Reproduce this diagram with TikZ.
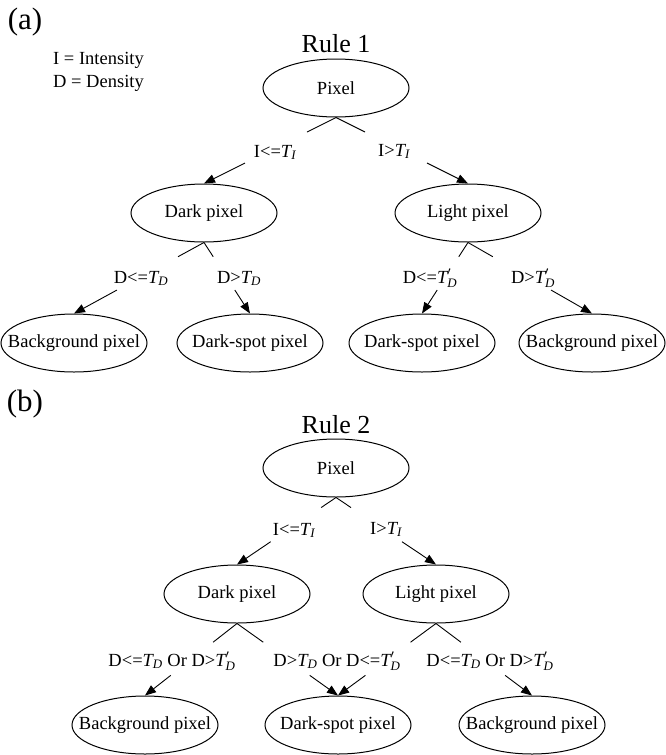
\documentclass[tikz,border=0pt]{standalone}
\usepackage{amsmath}
\usepackage{fontspec}
\setmainfont{Liberation Serif}
\usetikzlibrary{shapes.geometric,arrows.meta,calc}
\newcommand\nb[1]{\makebox[0pt]{#1}}
\newcommand\Ts[1]{$\textit{T}_{\textit{#1}}$}
\newcommand\Tp{$\textit{T}^{\prime}_{\textit{D}}$}
\newcommand\brEdge[4]{%
  \draw[edgeline] (#1.south) -- ($(#1.south)!#3!(#2.north)$);
  \draw[edgeline,arr] ($(#1.south)!#4!(#2.north)$) -- (#2.north);}
\tikzset{
  ell/.style={ellipse, draw, line width=1pt, minimum width=146pt,
    minimum height=58pt, inner sep=0pt, font=\fontsize{18.5}{20}\selectfont},
  lbl/.style={anchor=base, inner sep=0pt, font=\fontsize{18.5}{20}\selectfont},
  edgeline/.style={line width=0.9pt},
  arr/.style={-{Triangle[length=11pt,width=8.5pt]}},
  panel/.style={font=\fontsize{31}{33}\selectfont, inner sep=0pt},
  rulettl/.style={font=\fontsize{26}{28}\selectfont, inner sep=0pt},
  legend/.style={anchor=base west, inner sep=0pt, font=\fontsize{18.5}{20}\selectfont}
}
\begin{document}
\begin{tikzpicture}[x=1pt,y=-1pt]
\useasboundingbox[fill=white] (0,0) rectangle (666,755);
% ---------- (a)
\node[panel] (pa) at (25,22) {(a)};
\node[legend] (lg1) at (53,64) {I = Intensity};
\node[legend] (lg2) at (53,87) {D = Density};
\node[rulettl] (r1) at (336,44) {Rule 1};
\node[ell] (px1) at (336,88) {\nb{Pixel}};
\node[ell] (dk1) at (204,213) {\nb{Dark pixel}};
\node[ell] (lt1) at (468,213) {\nb{Light pixel}};
\node[ell] (bg1) at (74,343) {\nb{Background pixel}};
\node[ell] (ds1) at (250,343) {\nb{Dark-spot pixel}};
\node[ell] (ds2) at (422,343) {\nb{Dark-spot pixel}};
\node[ell] (bg2) at (592,343) {\nb{Background pixel}};
\node[lbl] (l1) at (275,157) {I<=\Ts{I}};
\node[lbl] (l2) at (394,156) {I>\Ts{I}};
\node[lbl] (l3) at (141,283) {D<=\Ts{D}};
\node[lbl] (l4) at (239,283) {D>\Ts{D}};
\node[lbl] (l5) at (430,283) {D<=\Tp};
\node[lbl] (l6) at (533,283) {D>\Tp};
\brEdge{px1}{dk1}{0.22}{0.69}
\brEdge{px1}{lt1}{0.22}{0.69}
\brEdge{dk1}{bg1}{0.2}{0.67}
\brEdge{dk1}{ds1}{0.2}{0.67}
\brEdge{lt1}{ds2}{0.2}{0.67}
\brEdge{lt1}{bg2}{0.2}{0.67}
% ---------- (b)
\node[panel] (pb) at (25,404) {(b)};
\node[rulettl] (r2) at (336,425) {Rule 2};
\node[ell] (px2) at (336,468) {\nb{Pixel}};
\node[ell] (dk2) at (237,594) {\nb{Dark pixel}};
\node[ell] (lt2) at (436,594) {\nb{Light pixel}};
\node[ell] (bg3) at (145,725) {\nb{Background pixel}};
\node[ell] (ds3) at (338,725) {\nb{Dark-spot pixel}};
\node[ell] (bg4) at (532,725) {\nb{Background pixel}};
\node[lbl] (m1) at (294,535) {I<=\Ts{I}};
\node[lbl] (m2) at (386,534) {I>\Ts{I}};
\node[lbl] (m3) at (172,666) {D<=\Ts{D} Or D>\Tp};
\node[lbl] (m4) at (337,666) {D>\Ts{D} Or D<=\Tp};
\node[lbl] (m5) at (490,666) {D<=\Ts{D} Or D>\Tp};
\brEdge{px2}{dk2}{0.15}{0.66}
\brEdge{px2}{lt2}{0.15}{0.66}
\brEdge{dk2}{bg3}{0.26}{0.72}
\brEdge{dk2}{ds3}{0.26}{0.72}
\brEdge{lt2}{ds3}{0.26}{0.72}
\brEdge{lt2}{bg4}{0.26}{0.72}
\end{tikzpicture}
\end{document}
